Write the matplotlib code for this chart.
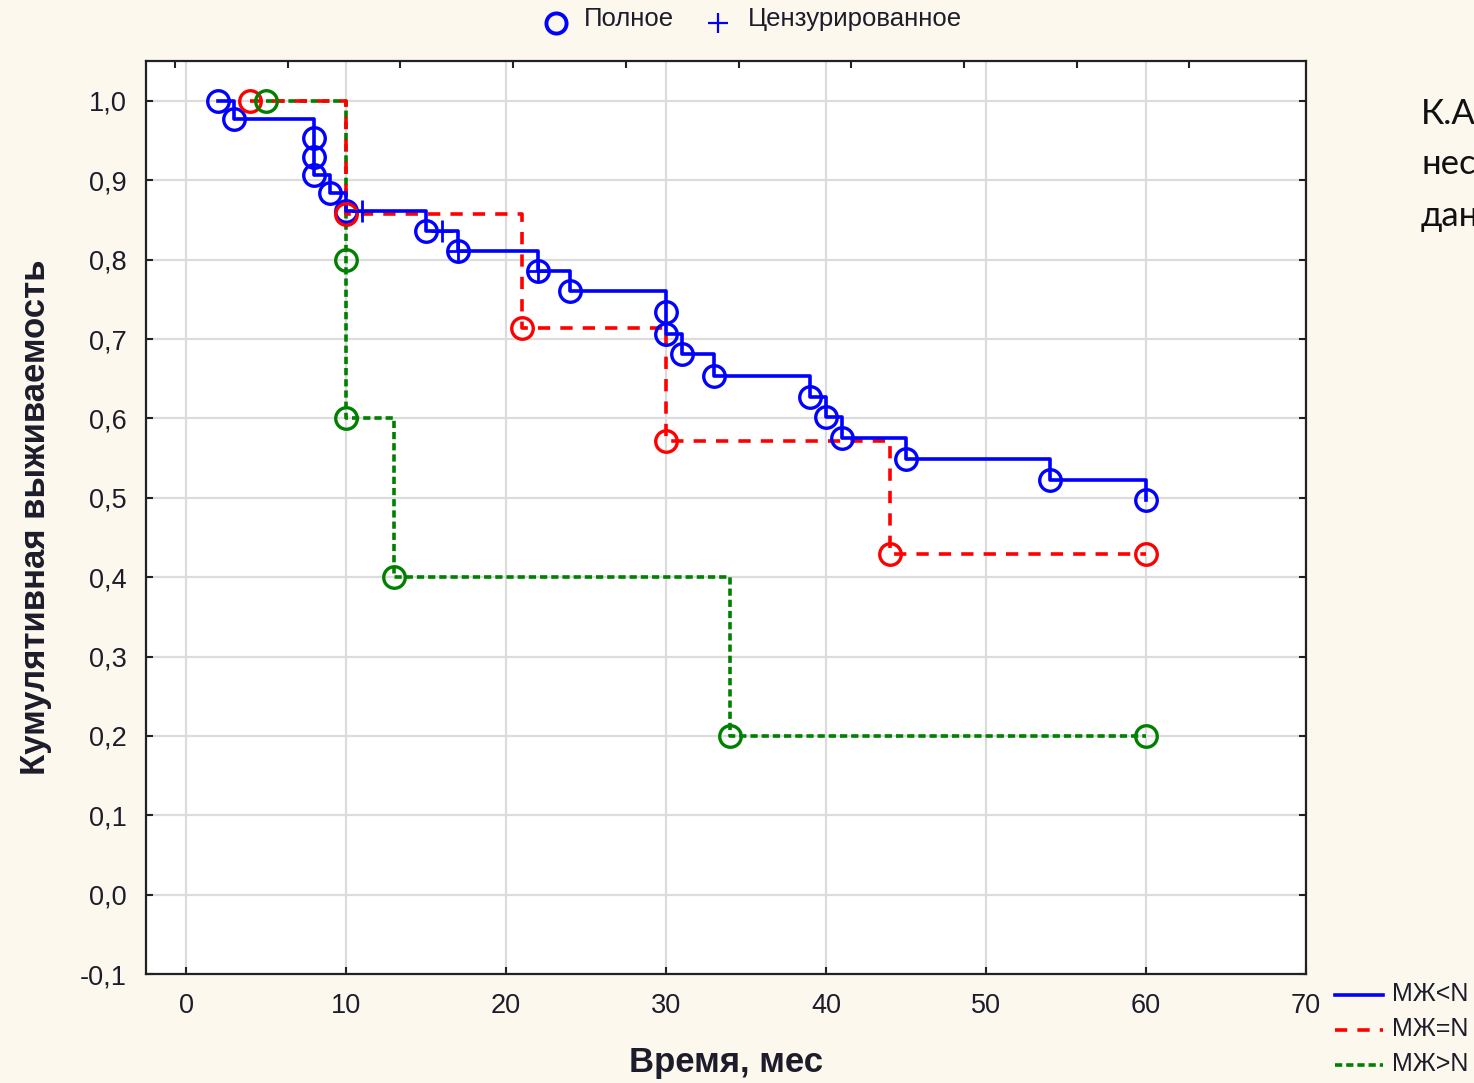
import matplotlib
matplotlib.use("Agg")
import matplotlib.pyplot as plt
from matplotlib.lines import Line2D
from matplotlib.ticker import FuncFormatter, FixedLocator

# ---- data ----
blue_t = [2, 3, 8, 8, 8, 9, 10, 15, 17, 22, 24, 30, 30, 31, 33, 39, 40, 41, 45, 54, 60]
blue_s = [1.0, 0.977, 0.953, 0.930, 0.907, 0.884, 0.861, 0.836, 0.811, 0.786, 0.760,
          0.734, 0.707, 0.681, 0.654, 0.627, 0.602, 0.576, 0.549, 0.523, 0.497]
blue_cens_t = [11, 16, 17, 22]
blue_cens_s = [0.861, 0.836, 0.811, 0.786]

red_t = [4, 10, 21, 30, 44, 60]
red_s = [1.0, 0.857, 0.714, 0.571, 0.429, 0.429]

green_t = [5, 10, 10, 13, 34, 60]
green_s = [1.0, 0.8, 0.6, 0.4, 0.2, 0.2]

group_labels = ["МЖ<N", "МЖ=N", "МЖ>N"]
marker_labels = ["Полное", "Цензурированное"]
x_ticks = [0, 10, 20, 30, 40, 50, 60, 70]
y_ticks = [-0.1, 0.0, 0.1, 0.2, 0.3, 0.4, 0.5, 0.6, 0.7, 0.8, 0.9, 1.0]
side_text = ["К.А", "нес", "дан"]

W, H = 1474, 1083
BG = "#FDF8EE"
TXT = "#1c1c2a"
BLUE = "#0000FF"
RED = "#FF0000"
GREEN = "#008000"

plt.rcParams['font.family'] = ['Liberation Sans', 'DejaVu Sans']

fig = plt.figure(figsize=(W / 100, H / 100), dpi=100, facecolor=BG)

def fx(px):
    return px / W

def fy(py):
    return 1 - py / H

ax = fig.add_axes([fx(146), fy(974), (1306 - 146) / W, (974 - 61) / H])
ax.set_facecolor("white")
ax.set_xlim(-2.5, 70)
ax.set_ylim(-0.1, 1.0504)

ax.grid(True, color="#dcdcdc", linewidth=1.6, zorder=0)
ax.set_axisbelow(True)
for sp in ax.spines.values():
    sp.set_color("#222222")
    sp.set_linewidth(1.6)

ax.xaxis.set_major_locator(FixedLocator(x_ticks))
ax.yaxis.set_major_locator(FixedLocator(y_ticks))
fmt = FuncFormatter(lambda v, p: f"{v:.1f}".replace(".", ",") if abs(v) > 1e-9 else "0,0")
ax.yaxis.set_major_formatter(fmt)
ax.xaxis.set_major_formatter(FuncFormatter(lambda v, p: f"{int(round(v))}"))
ax.tick_params(axis="both", direction="in", length=5, width=1.5, color="#222222",
               labelsize=19.5, labelcolor=TXT)
ax.tick_params(axis="y", right=True, pad=14)
ax.tick_params(axis="x", pad=14)

# odd top ticks (Statistica style)
top = ax.twiny()
top.set_xlim(ax.get_xlim())
top_pos = [(175 + 112.7 * k - 186) / 16 for k in range(10)]
top.xaxis.set_major_locator(FixedLocator(top_pos))
top.tick_params(axis="x", direction="in", length=5, width=1.5, color="#222222",
                labeltop=False)
for sp in top.spines.values():
    sp.set_visible(False)

ms = 15.5
mew = 2.4
lw = 2.6

# curves
ax.plot(green_t, green_s, drawstyle="steps-post", color=GREEN, lw=lw,
        linestyle=(0, (2.0, 1.1)), zorder=3)
ax.plot(red_t, red_s, drawstyle="steps-post", color=RED, lw=lw,
        linestyle=(0, (3.4, 2.8)), zorder=4)
ax.plot(blue_t, blue_s, drawstyle="steps-post", color=BLUE, lw=lw,
        linestyle="-", zorder=5)

ax.plot(blue_t, blue_s, linestyle="none", marker="o", ms=ms, mfc="none",
        mec=BLUE, mew=mew, zorder=6)
ax.plot(red_t, red_s, linestyle="none", marker="o", ms=ms, mfc="none",
        mec=RED, mew=mew, zorder=7)
ax.plot(green_t, green_s, linestyle="none", marker="o", ms=ms, mfc="none",
        mec=GREEN, mew=mew, zorder=7)
ax.plot(blue_cens_t, blue_cens_s, linestyle="none", marker="+", ms=15.5,
        mec=BLUE, mew=2.0, zorder=8)

ax.set_xlabel("Время, мес", fontsize=25, fontweight="bold", color=TXT, labelpad=19)
ax.set_ylabel("Кумулятивная выживаемость", fontsize=25, fontweight="bold",
              color=TXT, labelpad=20)

# top legend (manual)
fig.add_artist(Line2D([fx(556)], [fy(23)], transform=fig.transFigure, marker="o",
                      ms=14.5, mfc="none", mec=BLUE, mew=2.8, linestyle="none"))
fig.text(fx(584), fy(19), marker_labels[0], fontsize=18.5, color=TXT,
         ha="left", va="center")
fig.add_artist(Line2D([fx(718)], [fy(23)], transform=fig.transFigure, marker="+",
                      ms=15, mec=BLUE, mew=1.6, linestyle="none"))
fig.text(fx(748), fy(19), marker_labels[1], fontsize=18.5, color=TXT,
         ha="left", va="center")

# bottom-right legend (manual)
leg_styles = [(BLUE, "-"), (RED, (0, (3.4, 2.8))), (GREEN, (0, (2.0, 1.1)))]
leg_y = [995, 1030, 1065]
for (c, ls), yy, lab in zip(leg_styles, leg_y, group_labels):
    fig.add_artist(Line2D([fx(1335), fx(1383)], [fy(yy), fy(yy)],
                          transform=fig.transFigure, color=c, lw=lw, linestyle=ls))
    fig.text(fx(1392), fy(yy - 1), lab, fontsize=18, color=TXT,
             ha="left", va="center")

# side text (clipped by the figure edge, as in the reference)
for yy, s in zip([114, 164, 216], side_text):
    fig.text(fx(1421), fy(yy), s, fontsize=25, color="#111111",
             family=["Lato", "DejaVu Sans"], ha="left", va="center")

fig.savefig("out.png", dpi=100, facecolor=BG)
